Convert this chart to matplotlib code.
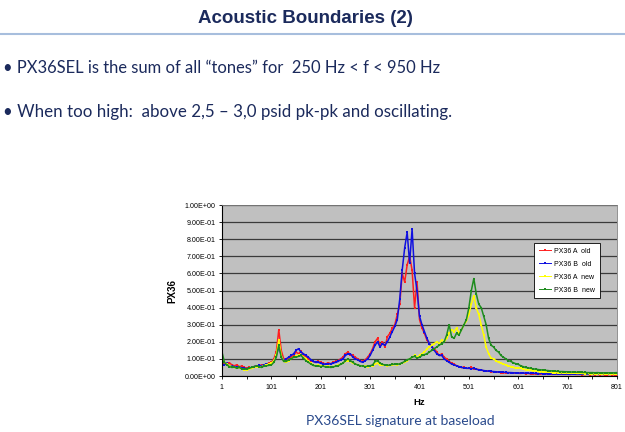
import numpy as np
import matplotlib.pyplot as plt
from matplotlib.ticker import FuncFormatter, MultipleLocator, FixedLocator

# frequenz-raster (alle 5 Hz)
hz = np.arange(1, 802, 5)

px36_a_old = [
    0.08, 0.075, 0.07, 0.078, 0.065, 0.06, 0.066, 0.055, 0.058, 0.05,
    0.045, 0.05, 0.047, 0.055, 0.06, 0.058, 0.065, 0.06, 0.07, 0.075,
    0.08, 0.1, 0.14, 0.27, 0.15, 0.1, 0.09, 0.1, 0.11, 0.12,
    0.14, 0.13, 0.145, 0.12, 0.115, 0.1, 0.09, 0.085, 0.08, 0.085,
    0.08, 0.075, 0.07, 0.078, 0.072, 0.08, 0.085, 0.09, 0.1, 0.11,
    0.13, 0.14, 0.125, 0.12, 0.11, 0.1, 0.09, 0.085, 0.095, 0.11,
    0.13, 0.16, 0.2, 0.22, 0.18, 0.2, 0.17, 0.23, 0.25, 0.28,
    0.3, 0.36, 0.42, 0.6, 0.55, 0.65, 0.7, 0.62, 0.4, 0.55,
    0.33, 0.28, 0.25, 0.21, 0.19, 0.17, 0.16, 0.14, 0.12, 0.13,
    0.11, 0.1, 0.085, 0.075, 0.07, 0.06, 0.055, 0.05, 0.05, 0.045,
    0.045, 0.05, 0.042, 0.04, 0.038, 0.035, 0.03, 0.028, 0.03, 0.025,
    0.025, 0.022, 0.024, 0.02, 0.02, 0.018, 0.02, 0.017, 0.016, 0.018,
    0.016, 0.015, 0.017, 0.014, 0.015, 0.013, 0.014, 0.012, 0.013, 0.012,
    0.012, 0.011, 0.013, 0.011, 0.01, 0.012, 0.01, 0.011, 0.01, 0.01,
    0.01, 0.009, 0.011, 0.01, 0.009, 0.01, 0.008, 0.009, 0.01, 0.008,
    0.009, 0.008, 0.009, 0.008, 0.009, 0.007, 0.008, 0.009, 0.008, 0.008,
    0.008,
]

px36_b_old = [
    0.07, 0.065, 0.075, 0.06, 0.058, 0.055, 0.05, 0.052, 0.048, 0.045,
    0.042, 0.048, 0.05, 0.055, 0.058, 0.062, 0.06, 0.065, 0.07, 0.07,
    0.075, 0.09, 0.12, 0.17, 0.12, 0.09, 0.1, 0.11, 0.12, 0.13,
    0.15, 0.16, 0.14, 0.13, 0.12, 0.11, 0.095, 0.085, 0.08, 0.08,
    0.075, 0.07, 0.068, 0.072, 0.07, 0.075, 0.08, 0.085, 0.095, 0.1,
    0.12, 0.13, 0.13, 0.11, 0.1, 0.095, 0.085, 0.08, 0.09, 0.1,
    0.12, 0.15, 0.18, 0.2, 0.17, 0.19, 0.18, 0.2, 0.23, 0.26,
    0.29, 0.33, 0.45, 0.62, 0.75, 0.84, 0.66, 0.86, 0.6, 0.5,
    0.35, 0.3, 0.26, 0.22, 0.19, 0.17, 0.15, 0.13, 0.12, 0.12,
    0.1, 0.09, 0.08, 0.07, 0.065, 0.06, 0.055, 0.05, 0.048, 0.045,
    0.045, 0.042, 0.045, 0.04, 0.036, 0.035, 0.032, 0.03, 0.028, 0.027,
    0.026, 0.025, 0.023, 0.024, 0.022, 0.021, 0.02, 0.02, 0.019, 0.018,
    0.018, 0.017, 0.018, 0.016, 0.017, 0.015, 0.016, 0.015, 0.014, 0.015,
    0.014, 0.014, 0.013, 0.014, 0.012, 0.013, 0.012, 0.013, 0.012, 0.012,
    0.012, 0.011, 0.012, 0.011, 0.012, 0.01, 0.011, 0.01, 0.011, 0.01,
    0.011, 0.01, 0.011, 0.01, 0.01, 0.011, 0.01, 0.012, 0.011, 0.013,
    0.014,
]

px36_a_new = [
    0.1, 0.08, 0.07, 0.06, 0.055, 0.05, 0.045, 0.05, 0.04, 0.038,
    0.035, 0.04, 0.045, 0.05, 0.055, 0.05, 0.055, 0.06, 0.065, 0.07,
    0.075, 0.09, 0.12, 0.21, 0.12, 0.085, 0.08, 0.09, 0.1, 0.11,
    0.115, 0.12, 0.125, 0.11, 0.1, 0.085, 0.075, 0.065, 0.06, 0.062,
    0.058, 0.06, 0.055, 0.058, 0.052, 0.055, 0.06, 0.062, 0.07, 0.075,
    0.085, 0.09, 0.085, 0.075, 0.07, 0.065, 0.06, 0.058, 0.06, 0.055,
    0.06, 0.058, 0.07, 0.075, 0.065, 0.062, 0.065, 0.06, 0.062, 0.065,
    0.068, 0.065, 0.07, 0.075, 0.08, 0.09, 0.1, 0.11, 0.12, 0.11,
    0.12, 0.13, 0.14, 0.16, 0.17, 0.18, 0.19, 0.2, 0.19, 0.21,
    0.2, 0.22, 0.25, 0.27, 0.26, 0.28, 0.25, 0.27, 0.3, 0.32,
    0.36, 0.42, 0.47, 0.4, 0.36, 0.3, 0.24, 0.17, 0.13, 0.105,
    0.1, 0.09, 0.08, 0.075, 0.07, 0.065, 0.06, 0.055, 0.05, 0.045,
    0.048, 0.045, 0.04, 0.038, 0.035, 0.033, 0.03, 0.03, 0.028, 0.026,
    0.025, 0.024, 0.022, 0.022, 0.02, 0.02, 0.019, 0.02, 0.018, 0.018,
    0.017, 0.018, 0.016, 0.017, 0.015, 0.016, 0.015, 0.014, 0.015, 0.014,
    0.014, 0.013, 0.014, 0.013, 0.012, 0.013, 0.012, 0.013, 0.012, 0.012,
    0.012,
]

px36_b_new = [
    0.14, 0.08, 0.065, 0.055, 0.05, 0.052, 0.045, 0.05, 0.042, 0.04,
    0.04, 0.045, 0.05, 0.055, 0.06, 0.055, 0.05, 0.058, 0.06, 0.062,
    0.065, 0.08, 0.11, 0.18, 0.11, 0.085, 0.085, 0.095, 0.1, 0.11,
    0.11, 0.115, 0.12, 0.105, 0.09, 0.08, 0.07, 0.062, 0.058, 0.06,
    0.055, 0.058, 0.052, 0.055, 0.05, 0.052, 0.058, 0.06, 0.068, 0.075,
    0.09, 0.1, 0.09, 0.08, 0.07, 0.065, 0.06, 0.058, 0.055, 0.058,
    0.06, 0.065, 0.085, 0.09, 0.075, 0.068, 0.065, 0.062, 0.065, 0.068,
    0.07, 0.068, 0.072, 0.078, 0.085, 0.095, 0.1, 0.11, 0.115, 0.105,
    0.11, 0.12, 0.125, 0.13, 0.14, 0.15, 0.16, 0.17, 0.18, 0.19,
    0.2, 0.24, 0.3, 0.23, 0.22, 0.25, 0.24, 0.27, 0.3, 0.33,
    0.4, 0.5, 0.57, 0.48, 0.42, 0.4, 0.35, 0.3, 0.22, 0.18,
    0.17, 0.15, 0.14, 0.12, 0.11, 0.1, 0.09, 0.085, 0.078, 0.072,
    0.068, 0.06, 0.055, 0.05, 0.048, 0.045, 0.042, 0.04, 0.038, 0.036,
    0.035, 0.033, 0.032, 0.03, 0.03, 0.028, 0.027, 0.026, 0.026, 0.025,
    0.025, 0.024, 0.023, 0.023, 0.022, 0.022, 0.021, 0.021, 0.02, 0.02,
    0.02, 0.019, 0.02, 0.019, 0.018, 0.019, 0.018, 0.019, 0.018, 0.019,
    0.02,
]

series_names = ["PX36 A  old", "PX36 B  old", "PX36 A  new", "PX36 B  new"]
series_colors = ["#ff2020", "#1010e0", "#ffff00", "#1e8c1e"]

navy = "#1b2a5c"

fig = plt.figure(figsize=(6.25, 4.32), dpi=100)

# folien-text
fig.text(0.488, 0.958, "Acoustic Boundaries (2)", ha="center", va="center",
         fontsize=13.5, fontweight="bold", family="Liberation Sans", color=navy)
fig.add_artist(plt.Line2D([0, 1], [0.922, 0.922], color="#a7bedd", lw=1.5))
fig.text(0.005, 0.842, "\u2022 PX36SEL is the sum of all \u201ctones\u201d for  250 Hz < f < 950 Hz",
         ha="left", va="center", fontsize=11.9, family="Lato", color=navy)
fig.text(0.005, 0.74, "\u2022 When too high:  above 2,5 \u2013 3,0 psid pk-pk and oscillating.",
         ha="left", va="center", fontsize=12.2, family="Lato", color=navy)
fig.text(0.64, 0.025, "PX36SEL signature at baseload", ha="center", va="center",
         fontsize=10, family="Lato", color="#2a4a8c")

ax = fig.add_axes([0.3552, 0.1296, 0.632, 0.3958])
ax.set_facecolor("#c0c0c0")

data = [px36_a_old, px36_b_old, px36_a_new, px36_b_new]
for vals, name, col in zip(data, series_names, series_colors):
    ax.plot(hz, vals, color=col, lw=1.1, marker="s", ms=1.8, mew=0, label=name)

ax.set_xlim(1, 801)
ax.set_ylim(0, 1)
ax.xaxis.set_major_locator(FixedLocator(np.arange(1, 802, 100)))
ax.xaxis.set_minor_locator(FixedLocator(np.arange(51, 802, 100)))
ax.yaxis.set_major_locator(MultipleLocator(0.1))
ax.yaxis.set_major_formatter(FuncFormatter(lambda v, p: f"{v:.2E}"))
ax.grid(axis="y", color="#3a3a3a", lw=0.9)
ax.set_axisbelow(True)

for lbl in ax.get_xticklabels() + ax.get_yticklabels():
    lbl.set_family("Liberation Sans")
ax.tick_params(axis="both", which="both", labelsize=5.1, length=2.5, width=0.6,
               color="black", pad=2)
ax.tick_params(axis="x", pad=3.5)

for s in ["top", "right"]:
    ax.spines[s].set_color("#808080")
    ax.spines[s].set_linewidth(0.6)
for s in ["left", "bottom"]:
    ax.spines[s].set_color("black")
    ax.spines[s].set_linewidth(0.8)

ax.set_xlabel("Hz", fontsize=6.8, fontweight="bold", family="Liberation Sans", labelpad=5)
ax.set_ylabel("PX36", fontsize=7, fontweight="bold", family="Liberation Sans", labelpad=5)

leg = ax.legend(loc="upper left", bbox_to_anchor=(0.79, 0.778),
                frameon=True, fancybox=False, edgecolor="black", framealpha=1,
                handlelength=1.8, borderpad=0.7, labelspacing=0.85, handletextpad=0.4,
                borderaxespad=0, prop={"family": "Liberation Sans", "size": 5})
leg.get_frame().set_linewidth(0.6)
for h in leg.get_lines():
    h.set_linewidth(0.7)
    h.set_markersize(1.5)

plt.savefig("out.png", dpi=100)
